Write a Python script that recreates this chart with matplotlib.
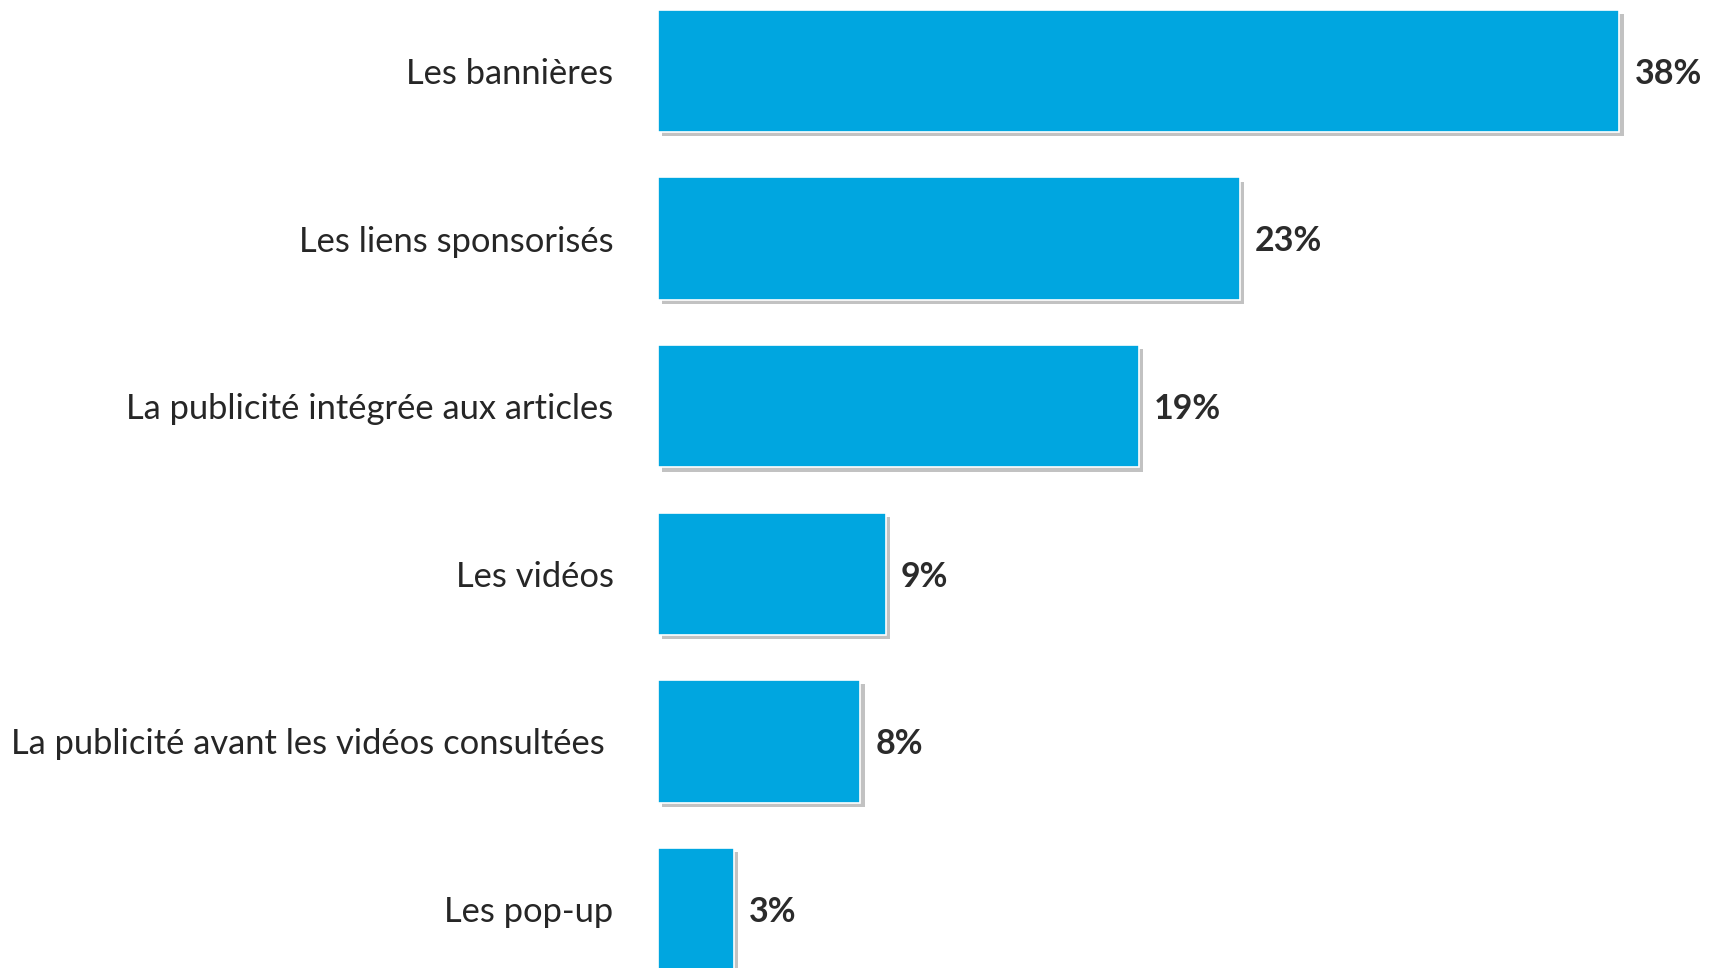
import matplotlib.pyplot as plt
import matplotlib.patheffects as pe

categories = ['Les bannières', 'Les liens sponsorisés', 'La publicité intégrée aux articles',
              'Les vidéos', 'La publicité avant les vidéos consultées ', 'Les pop-up']
values = [38, 23, 19, 9, 8, 3]

plt.rcParams['font.family'] = ['Lato', 'DejaVu Sans']

W, H = 1709, 968
fig = plt.figure(figsize=(W / 100, H / 100), dpi=100)
ax = fig.add_axes([658 / W, 0, (W - 658) / W, 1])

ypos = list(range(len(values)))
shadow = [pe.SimplePatchShadow(offset=(3, -3), shadow_rgbFace='#9a9a9a', alpha=0.6), pe.Normal()]
bars = ax.barh(ypos, values, height=0.73, color='#00A6E0', edgecolor='white', linewidth=1.2)
for b in bars:
    b.set_path_effects(shadow)

ax.set_xlim(0, (W - 658) / 25.3)
ax.set_ylim(5.352, -0.4236)

for y, v in zip(ypos, values):
    ax.annotate(f'{v}%', (v, y), xytext=(11, -2), textcoords='offset points',
                ha='left', va='center', fontsize=24.5, fontweight='bold', color='#2b2b2b')

ax.set_yticks(ypos)
ax.set_yticklabels(categories, fontsize=24.8, color='#262626')
ax.tick_params(axis='y', length=0, pad=32)
ax.set_xticks([])
for s in ax.spines.values():
    s.set_visible(False)

fig.savefig('out.png', dpi=100, facecolor='white')
